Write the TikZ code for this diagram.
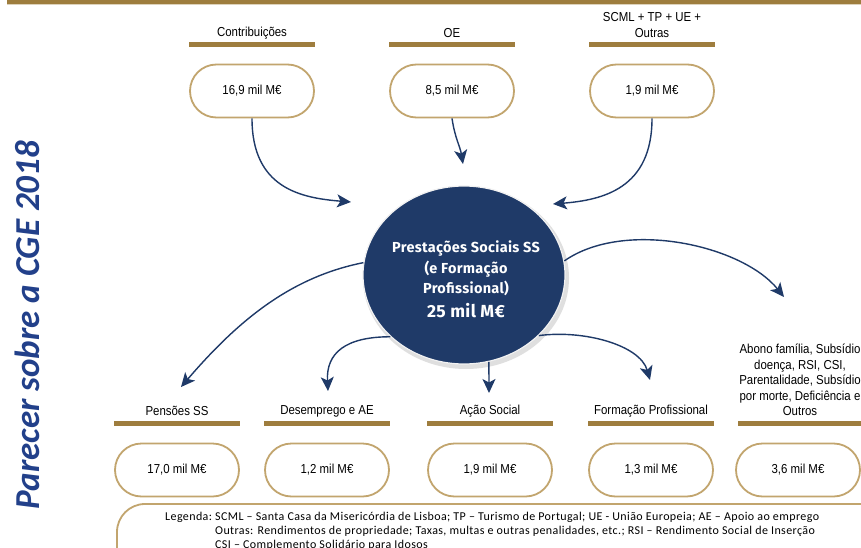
\documentclass[tikz,border=0pt]{standalone}
\usepackage{fontspec}
\setmainfont{Liberation Sans}
\newfontfamily\narrowfont{Liberation Sans}[FakeStretch=0.88]
\newfontfamily\circfont{Fira Sans}[LetterSpace=2]
\newfontfamily\legfont{Carlito}[LetterSpace=3.3]
\newfontfamily\sidefont{Carlito}
\usetikzlibrary{shapes.geometric,shapes.misc,arrows.meta}
\definecolor{navy}{HTML}{1F3A68}
\definecolor{gold}{HTML}{9E7D3E}
\definecolor{pillgold}{HTML}{C2A56E}
\definecolor{sideblue}{HTML}{22408A}
\begin{document}
\begin{tikzpicture}[x=1pt,y=-1pt,
  pill/.style={rounded rectangle, draw=pillgold, line width=1.8pt, fill=white,
    minimum width=124pt, minimum height=53pt, inner sep=0pt,
    font=\narrowfont\fontsize{13}{15}\selectfont},
  goldbar/.style={fill=gold, minimum width=126pt, minimum height=5pt, inner sep=0pt, outer sep=0pt},
  lbl/.style={font=\narrowfont\fontsize{13}{15.5}\selectfont, align=center, inner sep=0pt},
  flow/.style={draw=navy, line width=1.4pt, -{Stealth[length=14pt,width=13pt,inset=3.5pt]}},
]
\useasboundingbox (0,0) rectangle (861,548);
\fill[white] (0,0) rectangle (861,548);
% top band
\fill[gold] (7,0) rectangle (861,4);
\fill[gold!35] (7,4) rectangle (861,5.2);

% side title
\node[rotate=90, inner sep=0pt, text=sideblue,
  font=\sidefont\bfseries\itshape\fontsize{35}{36}\selectfont] (side) at (27,325) {Parecer sobre a CGE 2018};

% top row
\node[lbl] (t1) at (252,33) {Contribuições};
\node[lbl] (t2) at (452,33) {OE};
\node[lbl] (t3) at (652,25) {SCML + TP + UE +\\Outras};
\node[goldbar] (tb1) at (252,44.5) {};
\node[goldbar] (tb2) at (452,44.5) {};
\node[goldbar] (tb3) at (652,44.5) {};
\node[pill] (c1) at (252,91) {16,9 mil M€};
\node[pill] (c2) at (452,91) {8,5 mil M€};
\node[pill] (c3) at (652,91) {1,9 mil M€};

% central ellipse with soft shadow
\node[ellipse, fill=gray!25, minimum width=206pt, minimum height=182pt, inner sep=0pt] (shadow) at (466,278) {};
\node[ellipse, fill=navy, draw=white!90!gray, line width=1.2pt,
  minimum width=202pt, minimum height=178pt, inner sep=0pt] (ps) at (464,275) {};
\node[text=white, align=center, inner sep=0pt,
  font=\circfont\bfseries\fontsize{14.5}{20.5}\selectfont] (pst) at (466,279.5)
  {Prestações Sociais SS\\(e Formação\\Profissional)\\[3pt]{\fontsize{17.5}{20}\selectfont 25 mil M€}};

% bottom row
\node[lbl] (l1) at (177,411) {Pensões SS};
\node[lbl] (l2) at (327,411) {Desemprego e AE};
\node[lbl] (l3) at (490,411) {Ação Social};
\node[lbl] (l4) at (651,411) {Formação Profissional};
\node[lbl, anchor=south] (l5) at (800,416) {Abono família, Subsídio\\doença, RSI, CSI,\\Parentalidade, Subsídio\\por morte, Deficiência e\\Outros};
\node[goldbar] (bb1) at (177,423.5) {};
\node[goldbar] (bb2) at (327,423.5) {};
\node[goldbar] (bb3) at (490,423.5) {};
\node[goldbar] (bb4) at (651,423.5) {};
\node[goldbar] (bb5) at (801,423.5) {};
\node[pill] (p1) at (177,470) {17,0 mil M€};
\node[pill] (p2) at (327,470) {1,2 mil M€};
\node[pill] (p3) at (490,470) {1,9 mil M€};
\node[pill] (p4) at (651,470) {1,3 mil M€};
\node[pill] (p5) at (798,470) {3,6 mil M€};

% legend
\draw[pillgold, line width=1.8pt, rounded corners=28pt] (117,504) rectangle (920,600);
\node[anchor=north west, inner sep=0pt, font=\legfont\fontsize{12}{14}\selectfont] (leg) at (165,510)
  {\begin{tabular}{@{}l@{\ }l@{}}
   Legenda: & SCML – Santa Casa da Misericórdia de Lisboa; TP – Turismo de Portugal; UE - União Europeia; AE – Apoio ao emprego\\
   & Outras: Rendimentos de propriedade; Taxas, multas e outras penalidades, etc.; RSI – Rendimento Social de Inserção\\
   & CSI – Complemento Solidário para Idosos
  \end{tabular}};

% connector end points
\coordinate (e1) at (351,202);
\coordinate (e2) at (463,164);
\coordinate (e3) at (553,204);
\coordinate (e4) at (784,297);
\coordinate (e5) at (181,387);
\coordinate (e6) at (328,391);
\coordinate (e7) at (489,393);
\coordinate (e8) at (650,380);

% connectors
\draw[flow] (c1.south) .. controls +(0,70) and +(-50,-4) .. (e1);
\draw[flow] (c2.south) .. controls +(3,20) and +(-3,-18) .. (e2);
\draw[flow] (c3.south) .. controls +(0,70) and +(50,-4) .. (e3);
\draw[flow] (ps.8) .. controls +(60,-42) and +(-42,-52) .. (e4);
\draw[flow] (ps.173) .. controls +(-70,14) and +(60,-70) .. (e5);
\draw[flow] (ps.220) .. controls +(-45,0) and +(-2,-38) .. (e6);
\draw[flow] (ps.286) -- (e7);
\draw[flow] (ps.321) .. controls +(45,-6) and +(-10,-35) .. (e8);
\end{tikzpicture}
\end{document}
